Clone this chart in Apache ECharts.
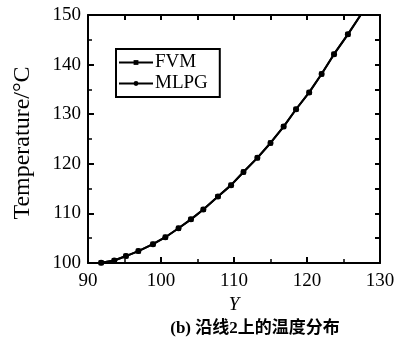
<!DOCTYPE html>
<html><head><meta charset="utf-8">
<script src="https://cdn.jsdelivr.net/npm/echarts@6/dist/echarts.min.js"></script>
<style>html,body{margin:0;padding:0;background:#fff}#c{width:401px;height:343px}</style>
</head><body><div id="c"></div>
<script>
const xValues = [91.8, 93.6, 95.2, 96.9, 98.9, 100.6, 102.4, 104.1, 105.8, 107.8, 109.6, 111.3, 113.2, 115.0, 116.8, 118.5, 120.3, 122.0, 123.7, 125.6, 127.35];
const fvmValues = [100.05, 100.5, 101.4, 102.4, 103.8, 105.2, 107.0, 108.8, 110.8, 113.4, 115.7, 118.35, 121.2, 124.2, 127.5, 131.0, 134.4, 138.1, 142.1, 146.1, 150.0];
const mlpgValues = [100.05, 100.5, 101.4, 102.4, 103.8, 105.2, 107.0, 108.8, 110.8, 113.4, 115.7, 118.35, 121.2, 124.2, 127.5, 131.0, 134.4, 138.1, 142.1, 146.1, 150.0];
const seriesNames = ['FVM', 'MLPG'];
const xTitle = 'Y';
const yTitle = 'Temperature/°C';
const caption = '(b) 沿线2上的温度分布';

const serif = '"Liberation Serif","DejaVu Serif",serif';
function pts(vals){
  return xValues.map((x,i)=> i===xValues.length-1 ? {value:[x,vals[i]], symbol:'none'} : [x, vals[i]]);
}
const axisLine = {show:true, onZero:false, lineStyle:{color:'#000', width:2}};
const chart = echarts.init(document.getElementById('c'));
chart.setOption({
  animation:false,
  backgroundColor:'#fff',
  grid:{left:88, right:21, top:15, bottom:80},
  legend:{
    left:116, top:49, orient:'vertical', itemGap:2,
    itemWidth:34, itemHeight:6,
    borderColor:'#000', borderWidth:2, padding:[4,12,4,2],
    textStyle:{fontFamily:serif, fontSize:19, color:'#000', padding:[0,0,0,-3]},
    data:seriesNames
  },
  title:{text:caption, left:250, textAlign:'center', top:315,
    textStyle:{fontFamily:'"Liberation Serif","Noto Sans CJK SC",serif', fontSize:17, fontWeight:'bold', color:'#000'}},
  graphic:[{
    type:'text', x:23, y:143, rotation:Math.PI/2,
    style:{text:yTitle, fontFamily:serif, fontSize:24, fill:'#000', align:'center', verticalAlign:'middle'}
  }],
  xAxis:[{
    type:'value', min:90, max:130, interval:10, position:'bottom',
    name:xTitle, nameLocation:'middle', nameGap:31,
    nameTextStyle:{fontFamily:serif, fontStyle:'italic', fontSize:19, color:'#000'},
    axisLine:axisLine,
    axisTick:{inside:true, length:6, lineStyle:{color:'#000', width:2}},
    minorTick:{show:true, splitNumber:2, length:4, lineStyle:{color:'#000', width:1.5}},
    axisLabel:{fontFamily:serif, fontSize:19, color:'#000', margin:9},
    splitLine:{show:false}
  },{
    type:'value', min:90, max:130, interval:5, position:'top',
    axisLine:axisLine,
    axisTick:{inside:true, length:5, lineStyle:{color:'#000', width:2}},
    axisLabel:{show:false}, splitLine:{show:false}
  }],
  yAxis:[{
    type:'value', min:100, max:150, interval:10, position:'left',
    axisLine:axisLine,
    axisTick:{inside:true, length:6, lineStyle:{color:'#000', width:2}},
    minorTick:{show:true, splitNumber:2, length:4, lineStyle:{color:'#000', width:1.5}},
    axisLabel:{fontFamily:serif, fontSize:19, color:'#000', margin:7},
    splitLine:{show:false}
  },{
    type:'value', min:100, max:150, interval:5, position:'right',
    axisLine:axisLine,
    axisTick:{inside:true, length:5, lineStyle:{color:'#000', width:2}},
    axisLabel:{show:false}, splitLine:{show:false}
  }],
  series:[{
    name:seriesNames[0], type:'line', data:pts(fvmValues),
    symbol:'rect', symbolSize:5, showAllSymbol:true,
    lineStyle:{color:'#000', width:2}, itemStyle:{color:'#000'}, clip:true
  },{
    name:seriesNames[1], type:'line', data:pts(mlpgValues),
    symbol:'circle', symbolSize:6, showAllSymbol:true,
    lineStyle:{color:'#000', width:2}, itemStyle:{color:'#000'}, clip:true
  }]
});
</script></body></html>
